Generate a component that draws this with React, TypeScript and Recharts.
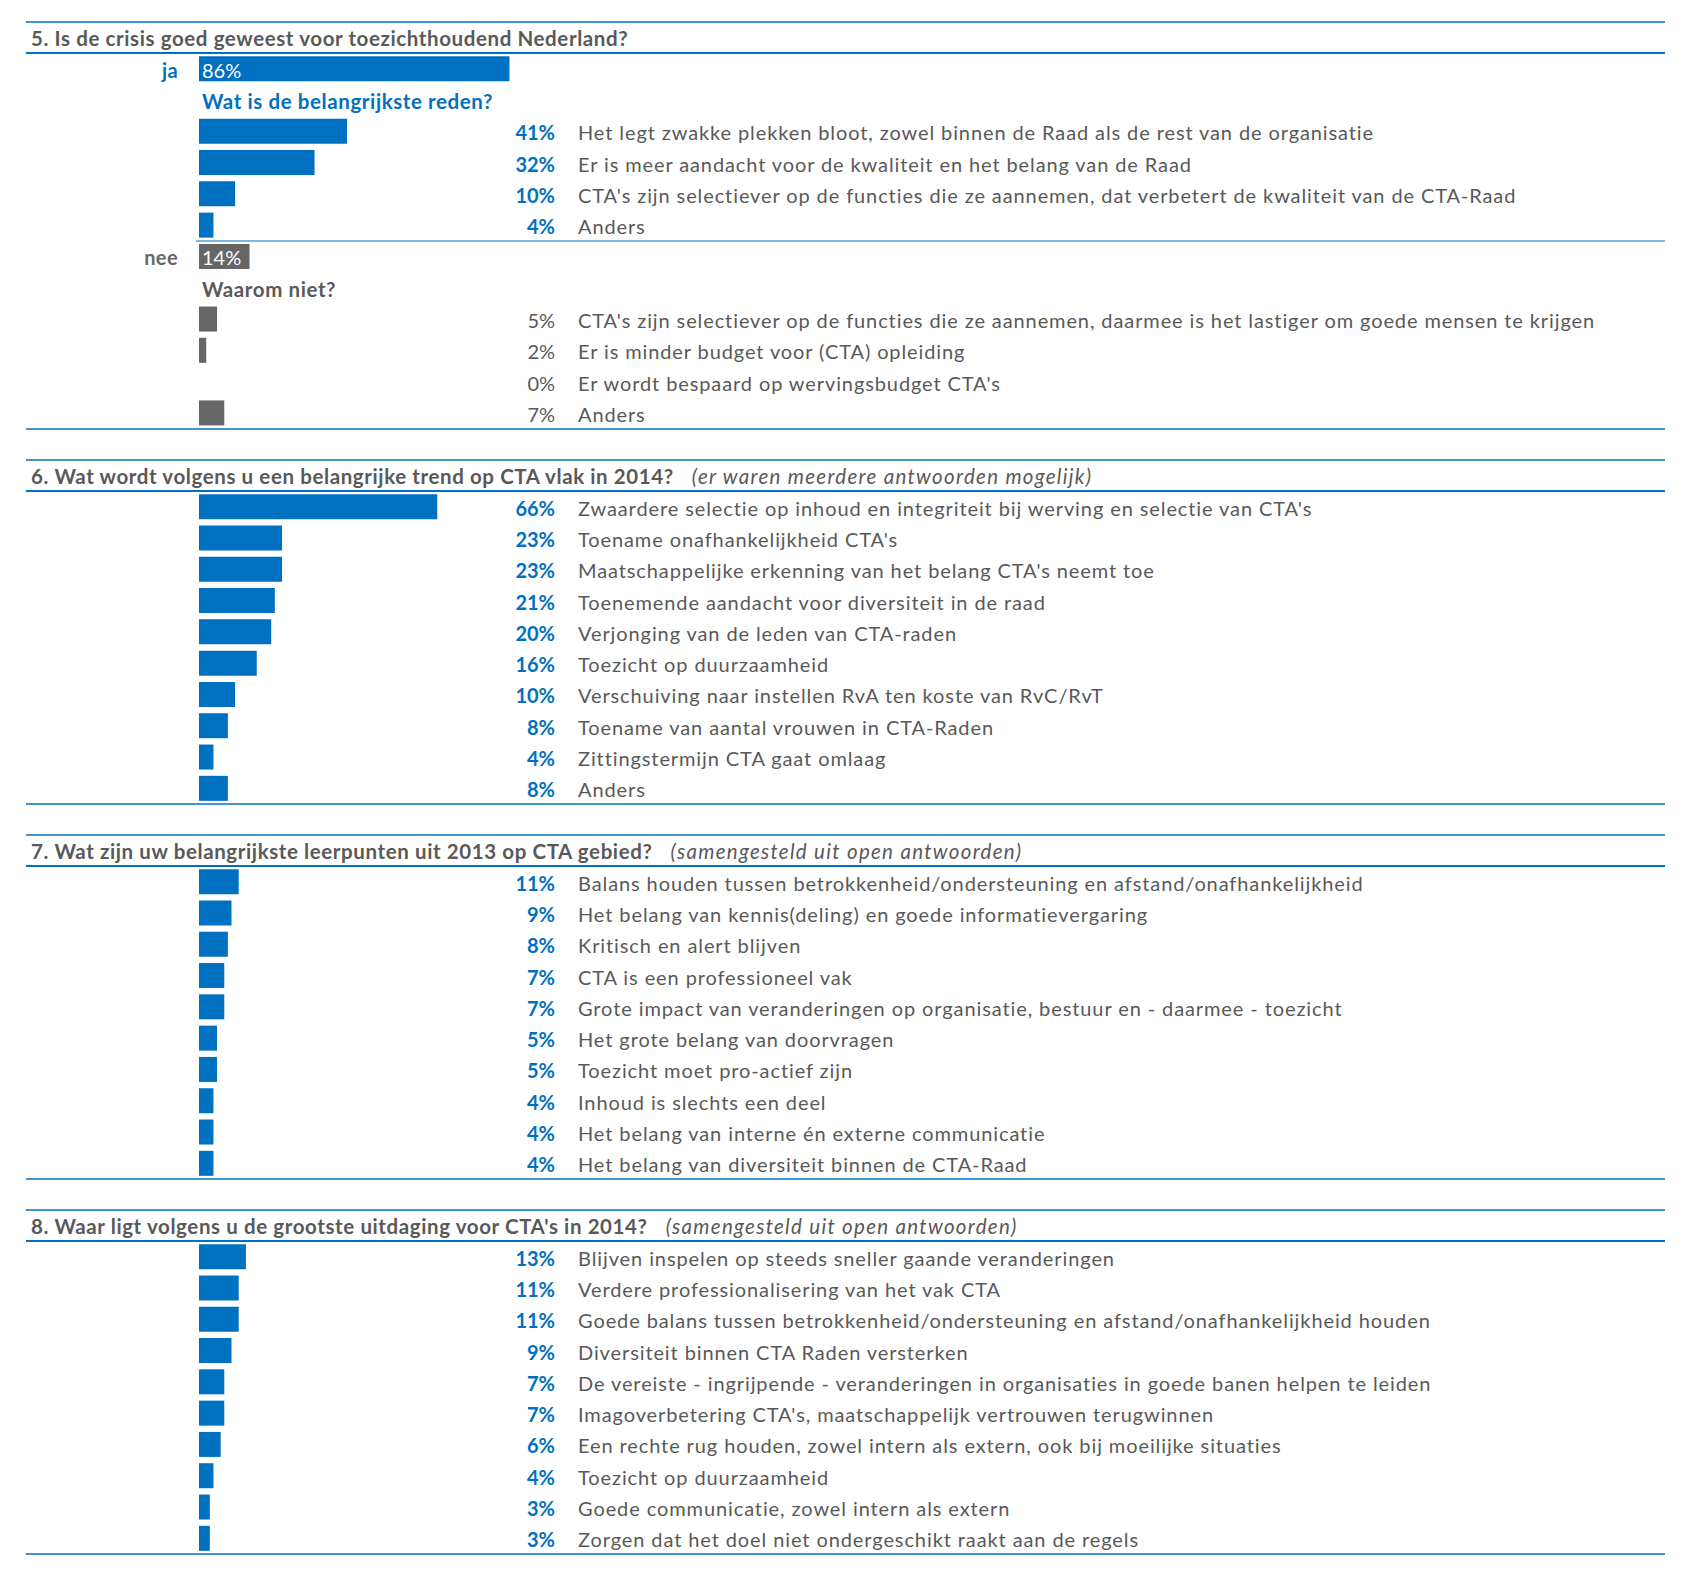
import React from "react";
import { BarChart, Bar, XAxis, YAxis, Cell, LabelList } from "recharts";

// ---- data ----

const q5Title = "5. Is de crisis goed geweest voor toezichthoudend Nederland?";
const q5Groups = ["ja", "nee"];
const q5GroupValues = [86, 14];
const q5YesHeading = "Wat is de belangrijkste reden?";
const q5YesReasons = [
  "Het legt zwakke plekken bloot, zowel binnen de Raad als de rest van de organisatie",
  "Er is meer aandacht voor de kwaliteit en het belang van de Raad",
  "CTA's zijn selectiever op de functies die ze aannemen, dat verbetert de kwaliteit van de CTA-Raad",
  "Anders",
];
const q5YesValues = [41, 32, 10, 4];
const q5NoHeading = "Waarom niet?";
const q5NoReasons = [
  "CTA's zijn selectiever op de functies die ze aannemen, daarmee is het lastiger om goede mensen te krijgen",
  "Er is minder budget voor (CTA) opleiding",
  "Er wordt bespaard op wervingsbudget CTA's",
  "Anders",
];
const q5NoValues = [5, 2, 0, 7];

const q6Title = "6. Wat wordt volgens u een belangrijke trend op CTA vlak in 2014?";
const q6Note = "(er waren meerdere antwoorden mogelijk)";
const q6Answers = [
  "Zwaardere selectie op inhoud en integriteit bij werving en selectie van CTA's",
  "Toename onafhankelijkheid CTA's",
  "Maatschappelijke erkenning van het belang CTA's neemt toe",
  "Toenemende aandacht voor diversiteit in de raad",
  "Verjonging van de leden van CTA-raden",
  "Toezicht op duurzaamheid",
  "Verschuiving naar instellen RvA ten koste van RvC/RvT",
  "Toename van aantal vrouwen in CTA-Raden",
  "Zittingstermijn CTA gaat omlaag",
  "Anders",
];
const q6Values = [66, 23, 23, 21, 20, 16, 10, 8, 4, 8];

const q7Title = "7. Wat zijn uw belangrijkste leerpunten uit 2013 op CTA gebied?";
const q7Note = "(samengesteld uit open antwoorden)";
const q7Answers = [
  "Balans houden tussen betrokkenheid/ondersteuning en afstand/onafhankelijkheid",
  "Het belang van kennis(deling) en goede informatievergaring",
  "Kritisch en alert blijven",
  "CTA is een professioneel vak",
  "Grote impact van veranderingen op organisatie, bestuur en - daarmee - toezicht",
  "Het grote belang van doorvragen",
  "Toezicht moet pro-actief zijn",
  "Inhoud is slechts een deel",
  "Het belang van interne én externe communicatie",
  "Het belang van diversiteit binnen de CTA-Raad",
];
const q7Values = [11, 9, 8, 7, 7, 5, 5, 4, 4, 4];

const q8Title = "8. Waar ligt volgens u de grootste uitdaging voor CTA's in 2014?";
const q8Note = "(samengesteld uit open antwoorden)";
const q8Answers = [
  "Blijven inspelen op steeds sneller gaande veranderingen",
  "Verdere professionalisering van het vak CTA",
  "Goede balans tussen betrokkenheid/ondersteuning en afstand/onafhankelijkheid houden",
  "Diversiteit binnen CTA Raden versterken",
  "De vereiste - ingrijpende - veranderingen in organisaties in goede banen helpen te leiden",
  "Imagoverbetering CTA's, maatschappelijk vertrouwen terugwinnen",
  "Een rechte rug houden, zowel intern als extern, ook bij moeilijke situaties",
  "Toezicht op duurzaamheid",
  "Goede communicatie, zowel intern als extern",
  "Zorgen dat het doel niet ondergeschikt raakt aan de regels",
];
const q8Values = [13, 11, 11, 9, 7, 7, 6, 4, 3, 3];

// ---- layout / style ----

const W = 1689;
const H = 1584;
const ROW = 31.3;
const HEADER_H = 31;
const GAP = 31;
const FIRST_TOP = 22;
const BAR_LEFT = 199;
const BAR_SPAN = 361; // 100%
const SIDE_X = 178;
const PCT_X = 555;
const TEXT_X = 578;
const LINE_L = 26;
const LINE_R = 1665;

const BLUE = "#0070C0";
const GREY_BAR = "#666666";
const GREY_TEXT = "#595959";
const FONT = "Lato, 'Open Sans', sans-serif";
const TEXT_SIZE = 20;
const TEXT_SPACING = 0.9;
const TITLE_SIZE = 20.5;
const TITLE_SPACING = 0.6;

type Row = {
  key: string;
  kind: "group" | "heading" | "item";
  value: number | null;
  text: string;
  color: string;
  pctColor: string;
  pctBold: boolean;
  inside?: string;
};

function items(prefix: string, texts: string[], values: number[], color: string, pctColor: string, pctBold: boolean): Row[] {
  return texts.map((t, i) => ({
    key: `${prefix}-${i}`,
    kind: "item",
    value: values[i],
    text: t,
    color,
    pctColor,
    pctBold,
  }));
}

const q5Rows: Row[] = [
  { key: "q5-ja", kind: "group", value: q5GroupValues[0], text: q5Groups[0], color: BLUE, pctColor: BLUE, pctBold: true, inside: `${q5GroupValues[0]}%` },
  { key: "q5-h1", kind: "heading", value: null, text: q5YesHeading, color: BLUE, pctColor: BLUE, pctBold: true },
  ...items("q5y", q5YesReasons, q5YesValues, BLUE, BLUE, true),
  { key: "q5-nee", kind: "group", value: q5GroupValues[1], text: q5Groups[1], color: GREY_BAR, pctColor: GREY_TEXT, pctBold: true, inside: `${q5GroupValues[1]}%` },
  { key: "q5-h2", kind: "heading", value: null, text: q5NoHeading, color: GREY_TEXT, pctColor: GREY_TEXT, pctBold: false },
  ...items("q5n", q5NoReasons, q5NoValues, GREY_BAR, GREY_TEXT, false),
];

const sections = [
  { title: q5Title, note: "", rows: q5Rows, splitAfter: 6 },
  { title: q6Title, note: q6Note, rows: items("q6", q6Answers, q6Values, BLUE, BLUE, true), splitAfter: -1 },
  { title: q7Title, note: q7Note, rows: items("q7", q7Answers, q7Values, BLUE, BLUE, true), splitAfter: -1 },
  { title: q8Title, note: q8Note, rows: items("q8", q8Answers, q8Values, BLUE, BLUE, true), splitAfter: -1 },
];

function RowTick(props: any) {
  const { y, payload, rows } = props;
  const row: Row | undefined = rows.find((r: Row) => r.key === payload.value);
  if (!row) return null;
  const base = { fontFamily: FONT, fontSize: TEXT_SIZE };
  if (row.kind === "group") {
    return (
      <text x={SIDE_X} y={y} dy={9} textAnchor="end" fill={row.color} fontWeight={700} style={{ ...base, letterSpacing: 0.4 }}>
        {row.text}
      </text>
    );
  }
  if (row.kind === "heading") {
    return (
      <text x={BAR_LEFT + 3} y={y} dy={9} fill={row.color} fontWeight={700} style={{ ...base, fontSize: TITLE_SIZE, letterSpacing: TITLE_SPACING }}>
        {row.text}
      </text>
    );
  }
  return (
    <g>
      <text x={PCT_X} y={y} dy={9} textAnchor="end" fill={row.pctColor} fontWeight={row.pctBold ? 700 : 400} style={base}>
        {`${row.value}%`}
      </text>
      <text x={TEXT_X} y={y} dy={9} fill={GREY_TEXT} style={{ ...base, letterSpacing: TEXT_SPACING }}>
        {row.text}
      </text>
    </g>
  );
}

function InsideLabel(props: any) {
  const { x, y, height, value } = props;
  if (!value) return null;
  return (
    <text x={x + 3} y={y + height / 2} dy={9} fill="#ffffff" style={{ fontFamily: FONT, fontSize: TEXT_SIZE }}>
      {value}
    </text>
  );
}

function Section({ top, title, note, rows, splitAfter }: { top: number; title: string; note: string; rows: Row[]; splitAfter: number }) {
  const chartTop = top + HEADER_H;
  const chartH = rows.length * ROW;
  return (
    <>
      <svg width={W} height={HEADER_H + 4} style={{ position: "absolute", left: 0, top: top - 1 }}>
        <line x1={LINE_L} x2={LINE_R} y1={1} y2={1} stroke={BLUE} strokeWidth={1.5} />
        <text
          x={LINE_L + 5}
          y={25}
          fill={GREY_TEXT}
          style={{ fontFamily: FONT, fontSize: TITLE_SIZE, fontWeight: 700, letterSpacing: TITLE_SPACING }}
        >
          {title}
          {note && (
            <tspan dx={18} fontWeight={400} fontStyle="italic" style={{ letterSpacing: 1.3 }}>
              {note}
            </tspan>
          )}
        </text>
        <line x1={LINE_L} x2={LINE_R} y1={HEADER_H + 1} y2={HEADER_H + 1} stroke={BLUE} strokeWidth={2} />
      </svg>
      <div style={{ position: "absolute", left: 0, top: chartTop }}>
        <BarChart
          width={W}
          height={chartH}
          data={rows}
          layout="vertical"
          margin={{ top: 0, right: W - BAR_LEFT - BAR_SPAN, bottom: 0, left: 0 }}
          barCategoryGap="10%"
        >
          <XAxis type="number" domain={[0, 100]} hide />
          <YAxis
            type="category"
            dataKey="key"
            width={BAR_LEFT}
            axisLine={false}
            tickLine={false}
            interval={0}
            tick={(p: any) => <RowTick {...p} rows={rows} />}
          />
          <Bar dataKey="value" isAnimationActive={false}>
            {rows.map((r) => (
              <Cell key={r.key} fill={r.color} />
            ))}
            <LabelList dataKey="inside" content={InsideLabel} />
          </Bar>
        </BarChart>
      </div>
      <svg width={W} height={4} style={{ position: "absolute", left: 0, top: chartTop + chartH - 2 }}>
        <line x1={LINE_L} x2={LINE_R} y1={2} y2={2} stroke={BLUE} strokeWidth={1.5} />
      </svg>
      {splitAfter > 0 && (
        <svg width={W} height={4} style={{ position: "absolute", left: 0, top: chartTop + splitAfter * ROW - 2 }}>
          <line x1={BAR_LEFT - 3} x2={LINE_R} y1={2} y2={2} stroke={BLUE} strokeWidth={1} />
        </svg>
      )}
    </>
  );
}

export default function App() {
  let top = FIRST_TOP;
  const tops = sections.map((s) => {
    const t = top;
    top += HEADER_H + s.rows.length * ROW + GAP;
    return t;
  });
  return (
    <div style={{ position: "relative", width: W, height: H, background: "#ffffff" }}>
      <style>{"body{margin:0}"}</style>
      {sections.map((s, i) => (
        <Section key={i} top={tops[i]} title={s.title} note={s.note} rows={s.rows} splitAfter={s.splitAfter} />
      ))}
    </div>
  );
}
